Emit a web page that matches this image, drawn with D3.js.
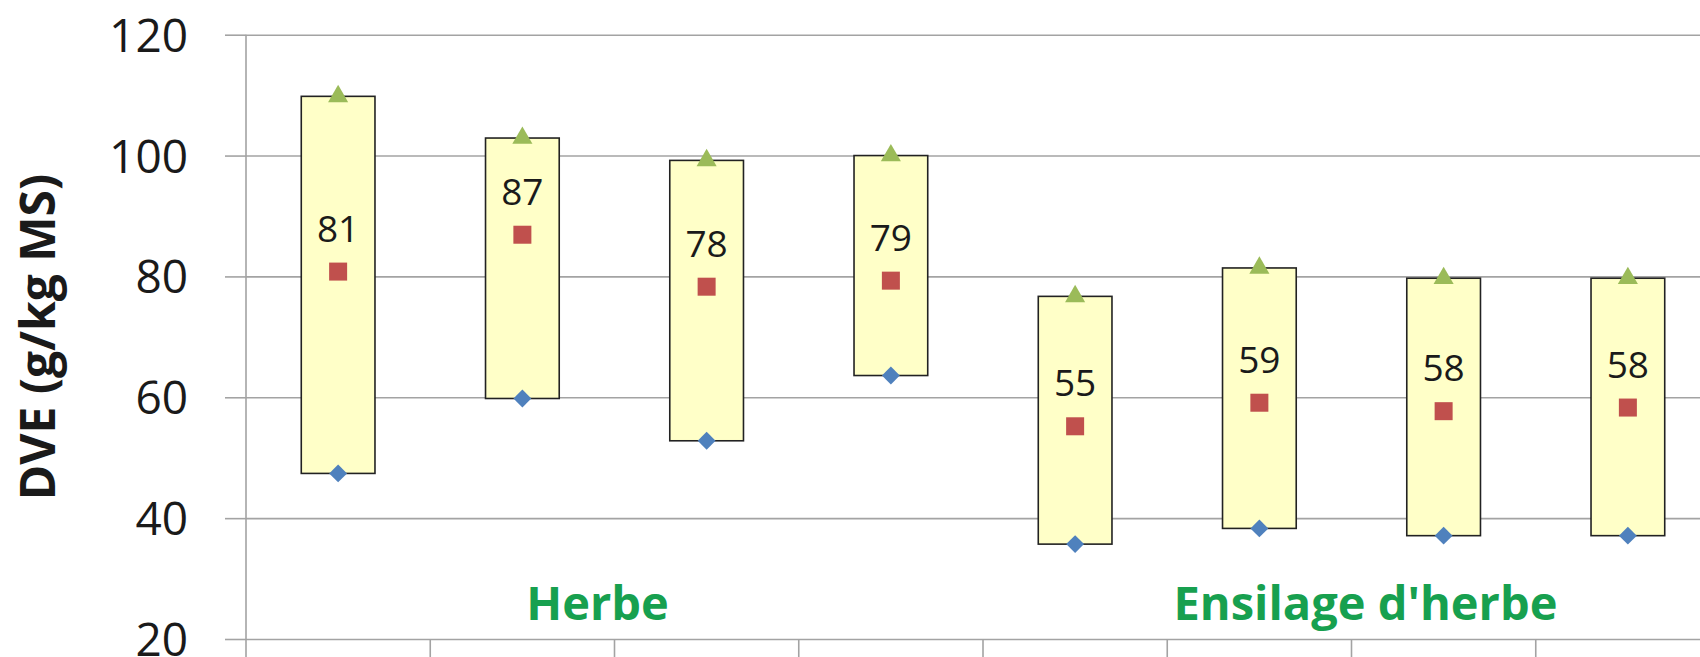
<!DOCTYPE html>
<html>
<head>
<meta charset="utf-8">
<script src="https://cdn.jsdelivr.net/npm/d3@7"></script>
<style>
  body { margin: 0; background: #fff; overflow: hidden; }
  svg { display: block; }
  svg text { font-family: "Open Sans", "Noto Sans", sans-serif; }
  .grid line { stroke: #a3a3a3; stroke-width: 1.6; }
  .grid .domain { display: none; }
  .y-axis line { stroke: #a3a3a3; stroke-width: 1.6; }
  .y-axis .domain { display: none; }
  .y-axis text { font-size: 46px; fill: #1a1a1a; }
</style>
</head>
<body>
<div id="chart"></div>
<script>
// données
const categories = ["H1", "H2", "H3", "H4", "E1", "E2", "E3", "E4"];
const maxValues = [109.8, 102.9, 99.2, 100.0, 76.7, 81.4, 79.7, 79.7];
const minValues = [47.4, 59.8, 52.8, 63.6, 35.7, 38.3, 37.1, 37.1];
const meanValues = [80.8, 86.9, 78.3, 79.3, 55.2, 59.1, 57.7, 58.3];
const meanLabels = ["81", "87", "78", "79", "55", "59", "58", "58"];
const yTicks = [20, 40, 60, 80, 100, 120];
const groupNames = ["Herbe", "Ensilage d'herbe"];
const groupCats = [["H2", "H3"], ["E2", "E3"]];

const W = 1700, H = 657;
const margin = { top: 34.7, left: 246 };
const plotRight = 1720; // le graphique est coupé à droite
const plotBottom = 639;

const data = categories.map((c, i) => ({
  cat: c,
  max: maxValues[i],
  min: minValues[i],
  mean: meanValues[i],
  label: meanLabels[i],
}));

const x = d3.scaleBand().domain(categories).range([margin.left, plotRight]).padding(0);
const y = d3.scaleLinear().domain([20, 120]).range([plotBottom, margin.top]);
const boxW = x.bandwidth() * 0.4;
const cx = (c) => x(c) + x.bandwidth() / 2;

const svg = d3.select("#chart")
  .append("svg")
  .attr("width", W)
  .attr("height", H);

// grille horizontale
svg.append("g")
  .attr("class", "grid")
  .attr("transform", `translate(${margin.left},0)`)
  .call(d3.axisLeft(y).tickValues(yTicks).tickSize(-(plotRight - margin.left)).tickFormat(""));

// axe vertical
svg.append("g")
  .attr("class", "y-axis")
  .attr("transform", `translate(${margin.left},0)`)
  .call(d3.axisLeft(y).tickValues(yTicks).tickSize(21).tickPadding(37))
  .attr("font-family", null)
  .attr("font-size", null)
  .call((g) => g.selectAll("text").attr("dy", "0.36em"));

svg.append("line")
  .attr("x1", margin.left).attr("x2", margin.left)
  .attr("y1", margin.top).attr("y2", H)
  .attr("stroke", "#a3a3a3").attr("stroke-width", 1.6);

// graduations de l'axe horizontal (limites des catégories)
svg.append("g")
  .selectAll("line")
  .data(categories.slice(1))
  .join("line")
  .attr("x1", (d) => x(d)).attr("x2", (d) => x(d))
  .attr("y1", plotBottom).attr("y2", H)
  .attr("stroke", "#a3a3a3").attr("stroke-width", 1.6);

// titre de l'axe
svg.append("text")
  .attr("transform", `translate(55,337) rotate(-90)`)
  .attr("text-anchor", "middle")
  .attr("font-size", 48)
  .attr("font-weight", "bold")
  .attr("fill", "#1a1a1a")
  .text("DVE (g/kg MS)");

// boîtes min-max
svg.append("g")
  .selectAll("rect")
  .data(data)
  .join("rect")
  .attr("x", (d) => cx(d.cat) - boxW / 2)
  .attr("width", boxW)
  .attr("y", (d) => y(d.max))
  .attr("height", (d) => y(d.min) - y(d.max))
  .attr("fill", "#ffffc8")
  .attr("stroke", "#222")
  .attr("stroke-width", 1.6);

// max : triangles
svg.append("g")
  .selectAll("path")
  .data(data)
  .join("path")
  .attr("d", d3.symbol(d3.symbolTriangle, 175))
  .attr("transform", (d) => `translate(${cx(d.cat)},${y(d.max)})`)
  .attr("fill", "#9bbb59");

// min : losanges
svg.append("g")
  .selectAll("path")
  .data(data)
  .join("path")
  .attr("d", d3.symbol(d3.symbolSquare, 160))
  .attr("transform", (d) => `translate(${cx(d.cat)},${y(d.min)}) rotate(45)`)
  .attr("fill", "#4f81bd");

// moyenne : carrés
svg.append("g")
  .selectAll("rect")
  .data(data)
  .join("rect")
  .attr("x", (d) => cx(d.cat) - 9)
  .attr("y", (d) => y(d.mean) - 9)
  .attr("width", 18)
  .attr("height", 18)
  .attr("fill", "#c0504d");

// étiquettes des moyennes
svg.append("g")
  .selectAll("text")
  .data(data)
  .join("text")
  .attr("x", (d) => cx(d.cat))
  .attr("y", (d) => y(d.mean) - 30)
  .attr("text-anchor", "middle")
  .attr("font-size", 37)
  .attr("fill", "#1a1a1a")
  .text((d) => d.label);

// noms des groupes
svg.append("g")
  .selectAll("text")
  .data(groupNames)
  .join("text")
  .attr("x", (d, i) => (x(groupCats[i][1]) + (i === 0 ? -17 : 14)))
  .attr("y", 620)
  .attr("text-anchor", "middle")
  .attr("font-size", 47)
  .attr("font-weight", "bold")
  .attr("fill", "#17a04f")
  .text((d) => d);
</script>
</body>
</html>
